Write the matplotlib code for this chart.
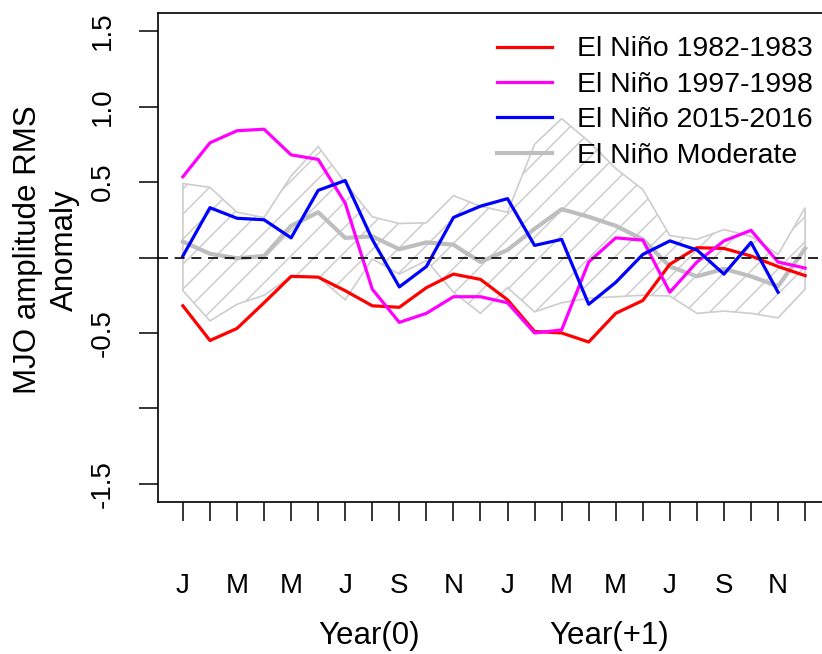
import numpy as np
import matplotlib
matplotlib.use("Agg")
import matplotlib.pyplot as plt
from matplotlib.patches import Polygon

plt.rcParams['font.family'] = ['Liberation Sans', 'DejaVu Sans']

# months Jan Year(0) .. Dec Year(+1)
months = np.arange(1, 25)
month_labels = ['J', '', 'M', '', 'M', '', 'J', '', 'S', '', 'N', '',
                'J', '', 'M', '', 'M', '', 'J', '', 'S', '', 'N', '']

nino_1982 = [-0.32, -0.55, -0.47, -0.30, -0.125, -0.13, -0.22, -0.32, -0.33, -0.20, -0.11, -0.145,
             -0.28, -0.49, -0.50, -0.56, -0.37, -0.285, -0.045, 0.065, 0.06, 0.01, -0.06, -0.12]
nino_1997 = [0.535, 0.76, 0.84, 0.85, 0.68, 0.65, 0.36, -0.21, -0.43, -0.37, -0.26, -0.26,
             -0.30, -0.50, -0.48, -0.03, 0.13, 0.115, -0.23, -0.03, 0.11, 0.18, -0.03, -0.07]
# 2015-2016 ends in November Year(+1)
nino_2015 = [0.01, 0.33, 0.26, 0.25, 0.13, 0.445, 0.51, 0.12, -0.195, -0.06, 0.265, 0.34,
             0.39, 0.08, 0.12, -0.31, -0.165, 0.02, 0.11, 0.05, -0.11, 0.10, -0.23]
moderate = [0.105, 0.025, -0.005, 0.01, 0.21, 0.30, 0.13, 0.14, 0.055, 0.10, 0.085, -0.03,
            0.05, 0.19, 0.32, 0.27, 0.21, 0.12, -0.06, -0.125, -0.075, -0.125, -0.19, 0.06]
moderate_hi = [0.49, 0.465, 0.30, 0.265, 0.54, 0.735, 0.495, 0.27, 0.225, 0.23, 0.41, 0.34,
               0.30, 0.75, 0.92, 0.77, 0.59, 0.45, 0.145, 0.12, 0.185, 0.14, 0.02, 0.33]
moderate_lo = [-0.22, -0.42, -0.31, -0.25, -0.125, -0.13, -0.28, -0.01, -0.11, -0.02, -0.23, -0.37,
               -0.20, -0.36, -0.30, -0.27, -0.26, -0.25, -0.255, -0.37, -0.355, -0.37, -0.40, -0.21]

series_labels = ['El Niño 1982-1983', 'El Niño 1997-1998', 'El Niño 2015-2016', 'El Niño Moderate']
series_colors = ['#FF0000', '#FF00FF', '#0000FF', '#BEBEBE']

fig = plt.figure(figsize=(8.22, 6.54), dpi=100)
ax = fig.add_axes([158/822, 1 - 502/654, 672/822, 489/654])
ax.set_xlim(1 - 0.92, 24 + 0.92)
ax.set_ylim(-1.62, 1.62)

# shaded range of moderate events, outlined and hatched
verts = list(zip(months, moderate_hi)) + list(zip(months[::-1], moderate_lo[::-1]))
band = Polygon(verts, closed=True, facecolor='none', edgecolor='#CDCDCD', lw=1.2, zorder=1)
ax.add_patch(band)
p = ax.transData.transform([[0, 0], [1, 1]])
k = (p[1, 0] - p[0, 0]) / (p[1, 1] - p[0, 1])
step = 25 / (p[1, 0] - p[0, 0])
xs = np.array([-10, 40])
for c in np.arange(-8, 30, step):
    ln, = ax.plot(xs, (xs - c) * k, color='#CDCDCD', lw=1.1, zorder=1)
    ln.set_clip_path(band)

ax.plot(months, moderate, color=series_colors[3], lw=3.0, zorder=2)
ax.plot(months, nino_1982, color=series_colors[0], lw=2.3, zorder=3)
ax.plot(months, nino_1997, color=series_colors[1], lw=2.3, zorder=3)
ax.plot(months[:len(nino_2015)], nino_2015, color=series_colors[2], lw=2.3, zorder=3)
ax.axhline(0, color='black', lw=1.2, ls=(0, (6, 4)), zorder=4)

for s in ax.spines.values():
    s.set_linewidth(1.2)

ax.set_xticks(months)
ax.set_xticklabels(month_labels)
ax.set_yticks([1.5, 1.0, 0.5, 0, -0.5, -1.0, -1.5])
ax.set_yticklabels(['1.5', '1.0', '0.5', '', '-0.5', '', '-1.5'])
ax.tick_params(axis='x', direction='out', length=13.5, width=1.1, pad=37.5, labelsize=20)
ax.tick_params(axis='y', direction='out', length=13.5, width=1.1, pad=17, labelsize=20,
               labelrotation=90)
for lab in ax.get_yticklabels():
    lab.set_va('center')

ax.text(7.9, -0.274, 'Year(0)', transform=ax.get_xaxis_transform(),
        ha='center', va='center', fontsize=22.5, clip_on=False)
ax.text(16.74, -0.274, 'Year(+1)', transform=ax.get_xaxis_transform(),
        ha='center', va='center', fontsize=22.5, clip_on=False)
fig.text(46/822, 1 - 250/654, 'MJO amplitude RMS\nAnomaly', rotation=90,
         ha='center', va='center', fontsize=22.5, linespacing=1.3)

handles = [plt.Line2D([], [], color=c, lw=2.3 if i < 3 else 3.0) for i, c in enumerate(series_colors)]
ax.legend(handles, series_labels, loc='upper left', bbox_to_anchor=(497/822, 1 - 36.5/654),
          bbox_transform=fig.transFigure, frameon=False, fontsize=20.5, borderpad=0,
          borderaxespad=0, handlelength=1.93, handletextpad=0.88, labelspacing=0.33)

fig.savefig('out.png', dpi=100)
